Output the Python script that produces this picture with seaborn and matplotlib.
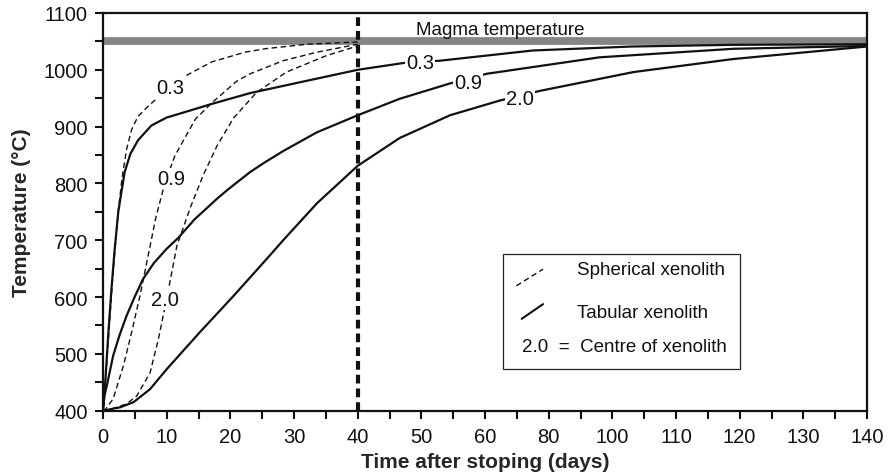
import numpy as np
import pandas as pd
import matplotlib
matplotlib.use("Agg")
import matplotlib.pyplot as plt
import seaborn as sns
from matplotlib.ticker import FixedLocator, FixedFormatter, NullFormatter
from matplotlib.lines import Line2D
from matplotlib.patches import Rectangle

# ---------------- data ----------------
x_tick_days = [0, 10, 20, 30, 40, 50, 60, 80, 100, 110, 120, 130, 140]
x_tick_labels = [str(v) for v in x_tick_days]
x_minor_days = [5, 15, 25, 35, 45, 55, 70, 90, 105, 115, 125, 135]
y_major = [400, 500, 600, 700, 800, 900, 1000, 1100]
y_minor = [450, 550, 650, 750, 850, 950, 1050]

magma_temp = 1050
marker_day = 40

# tabular xenolith (solid)
tab03_days = [0, 0.3, 0.8, 1.3, 1.8, 2.4, 3.4, 4.3, 5.5, 7.6, 10, 11.8, 17.1, 23.1,
              30.9, 40, 47.2, 52.9, 75, 103, 119, 140]
tab03_temp = [400, 440, 530, 610, 680, 750, 820, 852, 876, 902, 916, 922, 940, 959,
              978, 1000, 1012, 1016, 1034, 1041, 1044, 1045]

tab09_days = [0, 0.2, 0.6, 1.6, 2.6, 3.7, 5.0, 6.3, 8.0, 10, 11.8, 14.4, 17.9, 19.7,
              23.1, 25.4, 28.3, 33.6, 40, 46.6, 54.5, 60.5, 96, 119, 140]
tab09_temp = [400, 425, 444, 497, 533, 567, 601, 632, 660, 685, 704, 737, 773, 790,
              820, 837, 857, 890, 920, 949, 976, 993, 1022, 1037, 1042]

tab20_days = [0, 2.7, 4.8, 7.4, 10, 15.2, 20.5, 25.7, 28.3, 33.6, 40, 46.6, 54.5,
              64.7, 77.3, 103.3, 119, 140]
tab20_temp = [400, 406, 415, 438, 473, 538, 602, 667, 700, 765, 831, 880, 920,
              946, 963, 996, 1019, 1041]

# spherical xenolith (dashed)
sph03_days = [0, 0.5, 1.0, 1.5, 2.0, 2.4, 3.0, 3.7, 4.5, 5.5, 7.1, 9.0, 10.5, 12.9,
              17.1, 22.3, 25.4, 32, 40]
sph03_temp = [400, 470, 550, 630, 700, 752, 810, 860, 895, 918, 936, 955, 968, 989,
              1014, 1031, 1037, 1045, 1049]

sph09_days = [0, 0.3, 1.6, 3.2, 4.5, 5.8, 7.4, 8.3, 9.7, 11.3, 14.5, 17.2, 21, 23.1,
              28.3, 33.6, 40]
sph09_temp = [400, 401, 421, 479, 538, 602, 690, 740, 800, 849, 913, 943, 980, 993,
              1016, 1031, 1045]

sph20_days = [0, 1.1, 3.7, 5.3, 7.4, 8.7, 10, 11.6, 13.8, 15.8, 17.9, 20.5, 24.1,
              28.8, 35.1, 40]
sph20_temp = [400, 402, 412, 426, 467, 526, 597, 690, 760, 816, 866, 915, 960,
              996, 1025, 1042]

# curve labels
label_text = ["0.3", "0.9", "2.0", "0.3", "0.9", "2.0"]
label_days = [10.5, 10.7, 9.7, 49.8, 57.4, 71]
label_temp = [969, 809, 595, 1013, 978, 949]

# ---------------- style ----------------
sns.set_style("ticks")
plt.rcParams["font.family"] = ["Liberation Sans", "DejaVu Sans"]
plt.rcParams["text.color"] = "#111111"

fig = plt.figure(figsize=(8.92, 4.77), dpi=100)
ax = fig.add_axes([103 / 892, 1 - 411.7 / 477, 764 / 892, (411.7 - 14) / 477])

# magma temperature band
ax.axhline(magma_temp, color="#858585", lw=5.6, zorder=1)

solid_curves = [(tab03_days, tab03_temp), (tab09_days, tab09_temp), (tab20_days, tab20_temp)]
dashed_curves = [(sph03_days, sph03_temp), (sph09_days, sph09_temp), (sph20_days, sph20_temp)]

for d, t in solid_curves:
    sns.lineplot(x=d, y=t, ax=ax, color="#111111", lw=1.6, sort=False,
                 estimator=None, zorder=3)
for d, t in dashed_curves:
    sns.lineplot(x=d, y=t, ax=ax, color="#111111", lw=1.0, sort=False,
                 estimator=None, linestyle=(0, (4, 2.5)), zorder=3)

# stoping marker line
ax.axvline(marker_day, color="#111111", lw=3, linestyle=(0, (2.1, 1.2)), zorder=4)

# piecewise x scale (ticks evenly spaced)
ext_days = [-1000] + x_tick_days + [1140]
ext_pos = [-100] + list(range(len(x_tick_days))) + [len(x_tick_days) - 1 + 100]


def fwd(v):
    return np.interp(v, ext_days, ext_pos)


def inv(v):
    return np.interp(v, ext_pos, ext_days)


ax.set_xscale("function", functions=(fwd, inv))
ax.set_xlim(0, 140)
ax.set_ylim(400, 1100)
ax.xaxis.set_major_locator(FixedLocator(x_tick_days))
ax.xaxis.set_major_formatter(FixedFormatter(x_tick_labels))
ax.xaxis.set_minor_locator(FixedLocator(x_minor_days))
ax.xaxis.set_minor_formatter(NullFormatter())
ax.yaxis.set_major_locator(FixedLocator(y_major))
ax.yaxis.set_minor_locator(FixedLocator(y_minor))
ax.yaxis.set_minor_formatter(NullFormatter())

for s in ax.spines.values():
    s.set_linewidth(1.6)
    s.set_color("#111111")
ax.tick_params(axis="both", which="both", direction="out", length=6, width=1.5,
               color="#111111", top=False, right=False)
ax.tick_params(axis="both", which="major", labelsize=14.5, labelcolor="#111111")
ax.tick_params(axis="x", which="major", pad=6)
ax.tick_params(axis="y", which="major", pad=5)

ax.set_xlabel("Time after stoping (days)", fontsize=15, fontweight="bold", labelpad=4)
ax.set_ylabel("Temperature (°C)", fontsize=15, fontweight="bold", labelpad=9)

# curve labels
for txt, d, t in zip(label_text, label_days, label_temp):
    ax.text(d, t, txt, fontsize=14.5, ha="center", va="center", zorder=5,
            bbox=dict(boxstyle="square,pad=0.05", fc="white", ec="none"))

# magma label
ax.text(0.41, 0.947, "Magma temperature", transform=ax.transAxes, fontsize=13.5,
        ha="left", va="baseline", zorder=5)

# legend box
ax.add_patch(Rectangle((0.524, 0.105), 0.31, 0.289, transform=ax.transAxes,
                       fc="white", ec="#222222", lw=0.9, zorder=6))
ax.add_line(Line2D([0.541, 0.576], [0.314, 0.356], transform=ax.transAxes,
                   color="#111111", lw=1.0, linestyle=(0, (4, 2.5)), zorder=7))
ax.add_line(Line2D([0.548, 0.576], [0.231, 0.268], transform=ax.transAxes,
                   color="#111111", lw=1.5, zorder=7))
ax.text(0.621, 0.356, "Spherical xenolith", transform=ax.transAxes, fontsize=13.5,
        ha="left", va="center", zorder=7)
ax.text(0.621, 0.247, "Tabular xenolith", transform=ax.transAxes, fontsize=13.5,
        ha="left", va="center", zorder=7)
ax.text(0.549, 0.161, "2.0  =  Centre of xenolith", transform=ax.transAxes,
        fontsize=13.5, ha="left", va="center", zorder=7)

fig.savefig("out.png", dpi=100)
